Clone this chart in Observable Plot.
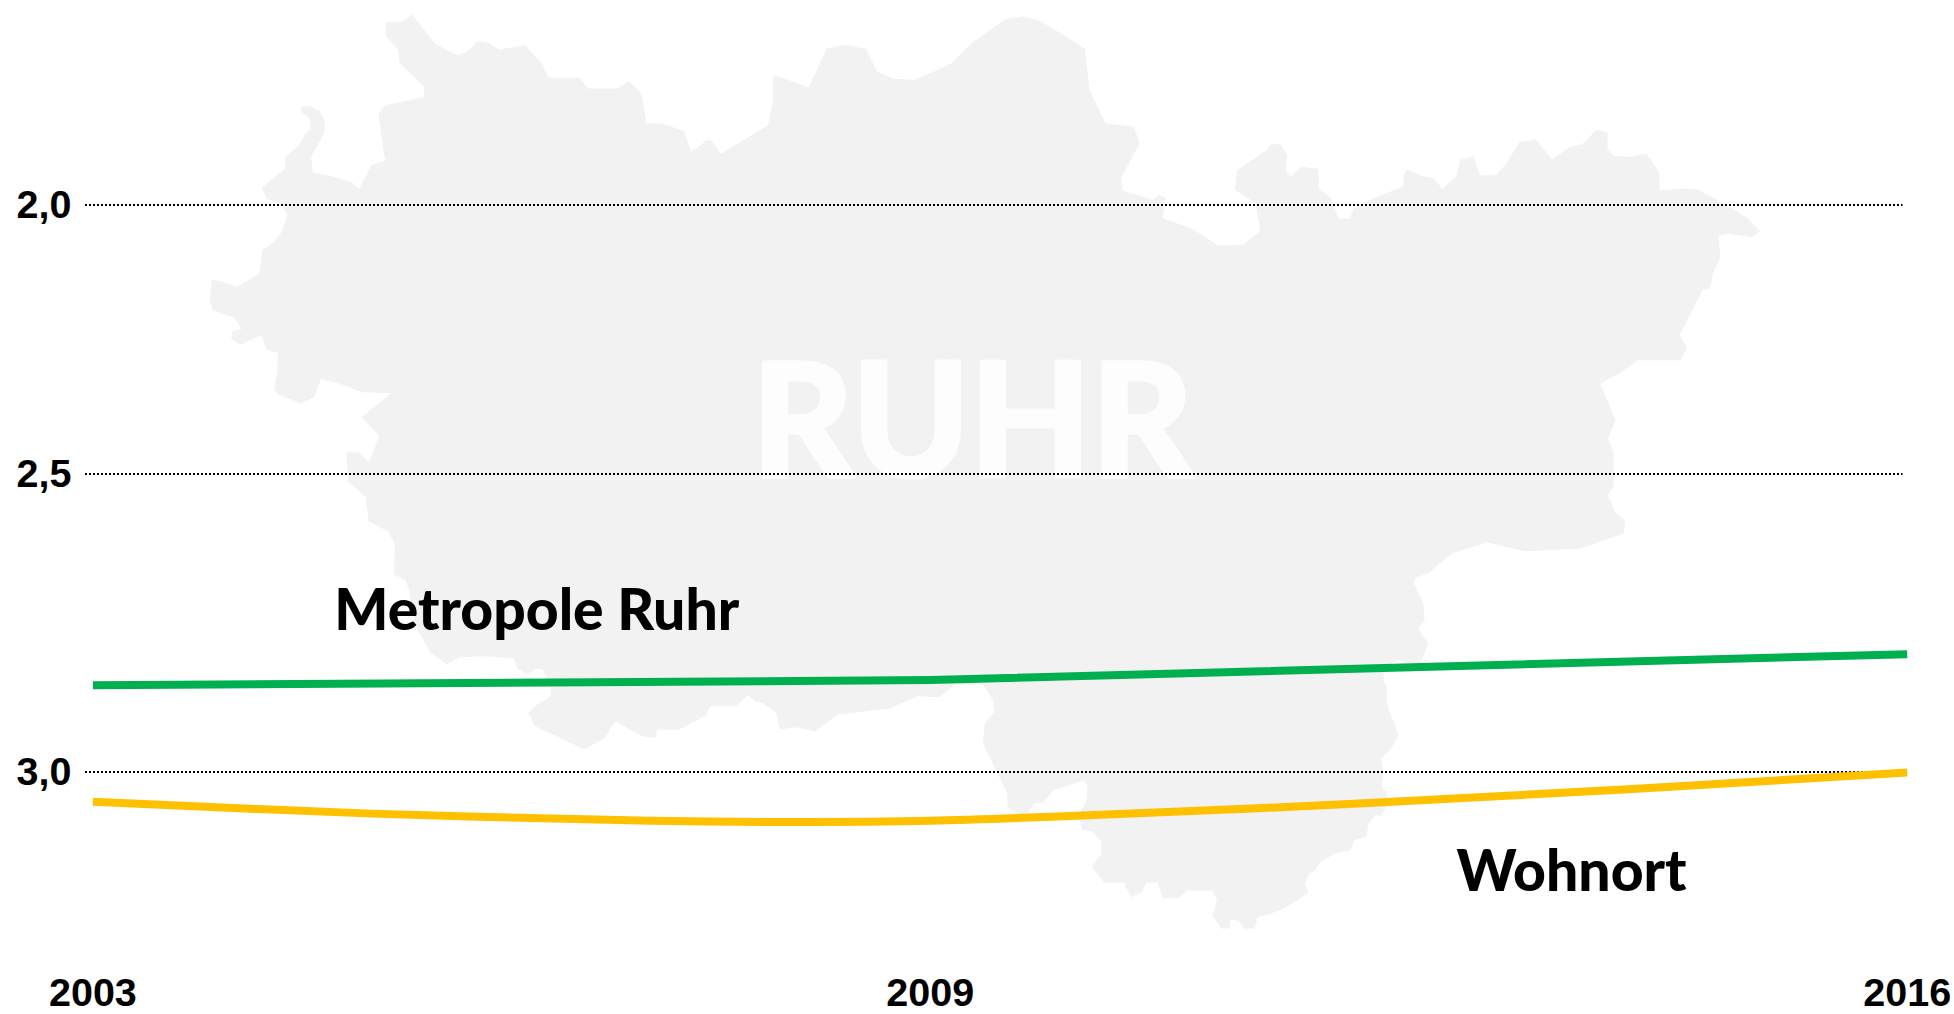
<!DOCTYPE html>
<html lang="de">
<head>
<meta charset="utf-8">
<script src="https://cdn.jsdelivr.net/npm/d3@7"></script>
<script src="https://cdn.jsdelivr.net/npm/@observablehq/plot@0.6"></script>
<style>
html,body{margin:0;padding:0;background:#fff;}
svg{display:block;}
</style>
</head>
<body>
<div id="chart"></div>
<script>
const years = [2003, 2009, 2016];
const metropoleRuhr = [2.8535, 2.845, 2.8015];
const wohnortYears = [2003, 2005, 2007, 2008, 2009, 2010, 2012, 2014, 2016];
const wohnort = [3.049, 3.069, 3.081, 3.083, 3.081, 3.073, 3.053, 3.028, 3.0];
const yTicks = [2, 2.5, 3];

const lineLabels = [
  {text: "Metropole Ruhr", year: 2004.73, value: 2.7615},
  {text: "Wohnort", year: 2012.77, value: 3.1995}
];
const mapLabel = [{text: "RUHR", year: 2007.72, value: 2.5029}];

// Traced silhouette of the Ruhr region, clockwise, in the traced image's units.
const outlineNW = [[870,1530],[868,1490],[826,1443],[822,1355],[850,1355],[876,1383],[900,1306],[858,1250],[928,1178],[860,1175],[805,1150],[762,1135],[745,1190],[714,1208],[660,1183],[650,1165],[658,1110],[659,1057],[633,1050],[620,1004],[570,1032],[548,1015],[551,992],[573,985],[555,950],[505,930],[497,900],[502,836],[545,850],[558,861],[615,820],[622,750],[645,730],[666,698],[682,645],[668,612],[632,595],[621,562],[676,505],[677,470],[712,430],[722,403],[737,385],[734,350],[715,335],[715,317],[738,317],[759,332],[771,365],[770,395],[738,470],[742,516],[790,528],[835,545],[851,566],[882,493],[914,481],[898,343],[914,314],[1004,291],[1008,262],[948,187],[946,150],[915,105],[915,65],[954,65],[978,42],[1033,130],[1086,165],[1113,150],[1133,122],[1160,127],[1185,147],[1247,135],[1285,185],[1302,232],[1376,232],[1396,264],[1465,264],[1494,242],[1523,280],[1535,369]];
const outlineN = [[27,369],[79,391],[97,454],[133,420],[145,420],[167,460],[279,375],[291,302],[291,228],[305,228],[376,261],[418,145],[459,133],[512,145],[538,212],[577,235],[629,238],[714,190],[765,125],[843,56],[887,47],[928,62],[1032,144],[1043,267],[1081,369],[1149,379],[1162,429],[1118,533],[1122,570],[1192,598],[1208,584],[1225,592],[1217,653],[1288,685],[1349,735],[1408,733],[1449,690],[1438,610],[1389,566],[1393,510],[1465,448],[1475,431],[1497,431],[1513,464],[1509,510],[1522,528],[1546,499]];
const outlineNE = [[16,499],[57,505],[58,565],[87,593],[105,654],[131,655],[140,625],[165,605],[259,557],[260,520],[268,507],[305,527],[330,532],[352,566],[385,525],[394,478],[425,467],[441,524],[477,524],[503,490],[534,425],[573,417],[613,476],[654,439],[682,433],[718,387],[744,397],[744,443],[757,466],[795,469],[837,460],[866,514],[868,569],[925,564],[958,566],[992,590],[1035,620],[1078,655],[1106,692],[1087,710],[1027,699],[1007,707],[1012,770],[994,820],[987,865],[970,867],[916,1003],[932,1042],[918,1079],[815,1079],[773,1118],[726,1150],[763,1260],[745,1314],[758,1354],[758,1458],[744,1483],[760,1530]];
const outlineSE = [[768,30],[786,50],[782,87],[678,133],[546,140],[457,113],[373,148],[320,205],[288,220],[283,235],[306,295],[309,350],[294,370],[305,395],[318,413],[300,476],[262,478],[257,468],[240,470],[225,480],[212,505],[212,530],[219,548],[219,597],[247,690],[233,727],[205,763],[212,805],[207,845],[221,870],[219,905],[205,935],[193,930],[175,958],[172,995],[142,1007],[132,1038],[98,1046],[60,1073],[50,1097],[35,1108],[25,1137],[33,1165],[0,1193]];
const outlineS = [[1510,1208],[1480,1225],[1443,1238],[1435,1273],[1411,1273],[1398,1250],[1378,1244],[1375,1272],[1356,1272],[1335,1233],[1346,1188],[1335,1158],[1276,1158],[1253,1181],[1216,1181],[1206,1134],[1178,1134],[1168,1163],[1142,1178],[1128,1145],[1130,1134],[1078,1134],[1048,1087],[1071,1048],[1071,1012],[1050,980],[1025,975],[1020,945],[1018,930],[1037,885],[1038,845],[1030,827],[957,858],[933,895],[912,897],[893,932],[875,932],[848,907],[848,867],[790,718],[794,658],[817,622],[813,585],[790,540],[722,540],[688,578],[635,575],[568,613],[444,630],[392,680],[343,668],[307,675],[298,623],[265,595],[248,590],[232,571],[205,605],[142,605],[131,633],[65,677],[15,675]];
const outlineSW = [[1558,700],[1527,697],[1463,652],[1450,668],[1438,698],[1387,735],[1270,665],[1254,625],[1272,603],[1307,575],[1307,540],[1288,495],[1272,492],[1252,510],[1228,493],[1220,463],[1155,455],[1090,458],[1060,480],[1022,445],[990,375],[970,255],[963,228],[935,210],[937,118],[920,80],[875,52],[870,0]];

const xRange = [92.4, 1906.7];
const yRange = [205, 474, 772];
const xInverse = d3.scaleLinear().domain(xRange).range([2003, 2016]);
const yInverse = d3.scaleLinear().domain(yRange).range(yTicks);

const tiles = [
  [outlineNW, 0, 0], [outlineN, 650, 0], [outlineNE, 1294, 0],
  [outlineSE, 1294, 504], [outlineS, 650, 504], [outlineSW, 0, 504]
];
const outline = tiles.flatMap(([pts, ox, oy]) => pts.map(([a, b]) => ({
  year: xInverse(ox + a / 2.376),
  value: yInverse(oy + b / 3)
})));

const series = (xs, values) => xs.map((year, i) => ({year, value: values[i]}));
const comma = d => d3.format(".1f")(d).replace(".", ",");

const chart = Plot.plot({
  width: 1954,
  height: 1014,
  marginLeft: 85,
  marginRight: 0,
  marginTop: 0,
  marginBottom: 48,
  style: {fontFamily: "'Liberation Sans', Arial, sans-serif", background: "#fff", color: "#000"},
  x: {domain: [2003, 2016], range: xRange},
  y: {type: "linear", domain: yTicks, range: yRange},
  marks: [
    Plot.line(outline, {x: "year", y: "value", fill: "#f2f2f2", stroke: "none"}),
    Plot.text(mapLabel, {x: "year", y: "value", text: "text", textAnchor: "start", lineAnchor: "bottom",
      fill: "#fdfdfd", stroke: "#fdfdfd", strokeWidth: 5, fontSize: 158, fontWeight: 700, fontFamily: "Lato"}),
    Plot.ruleY(yTicks, {x1: 2002.947, x2: 2015.97, dy: -0.5, stroke: "#000", strokeWidth: 2, strokeDasharray: "2 2"}),
    Plot.line(series(years, metropoleRuhr), {x: "year", y: "value", stroke: "#00b050", strokeWidth: 8, strokeLinecap: "butt"}),
    Plot.line(series(wohnortYears, wohnort), {x: "year", y: "value", stroke: "#ffc000", strokeWidth: 8, strokeLinecap: "butt", curve: "catmull-rom"}),
    Plot.text(lineLabels, {x: "year", y: "value", text: "text", textAnchor: "start", lineAnchor: "bottom",
      fill: "#000", fontSize: 57, fontWeight: 900, fontFamily: "Lato"}),
    Plot.axisY({ticks: yTicks, tickFormat: comma, tickSize: 0, tickPadding: 14, fontSize: 39.5, fontWeight: 700, fill: "#000", label: null}),
    Plot.axisX({ticks: years, tickFormat: d => String(d), tickSize: 0, tickPadding: 11, fontSize: 39.5, fontWeight: 700, fill: "#000", label: null})
  ]
});
document.getElementById("chart").append(chart);
</script>
</body>
</html>
